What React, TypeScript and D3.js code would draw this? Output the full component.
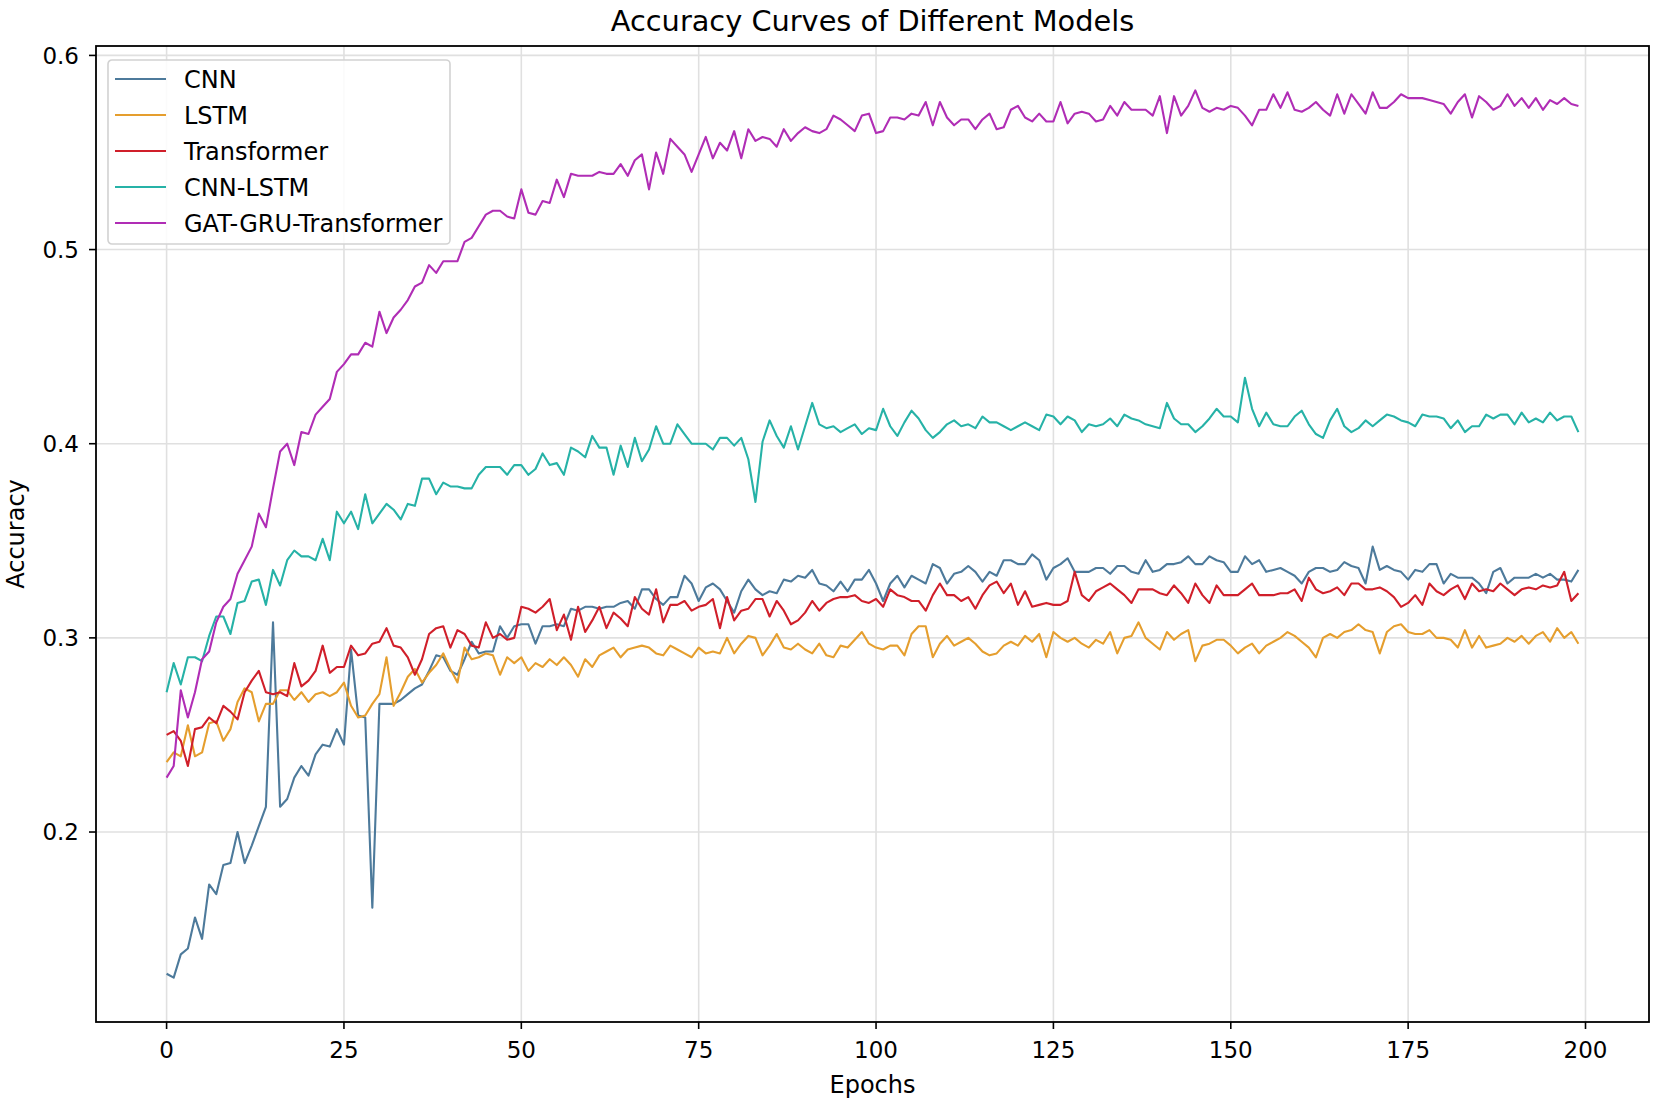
import * as d3 from 'd3';

// accuracy per epoch
const cnn = [
  .127, .125, .137, .140, .156, .145, .173, .168, .183, .184,
  .200, .184, .193, .203, .213, .308, .213, .217, .228, .234,
  .229, .240, .245, .244, .253, .245, .294, .260, .259, .161,
  .266, .266, .266, .268, .271, .274, .276, .283, .291, .290,
  .283, .281, .289, .298, .292, .293, .293, .306, .300, .306,
  .307, .307, .297, .306, .306, .307, .306, .315, .314, .316,
  .316, .315, .316, .316, .318, .319, .315, .325, .325, .320,
  .317, .321, .321, .332, .328, .319, .326, .328, .325, .319,
  .313, .324, .330, .325, .322, .324, .323, .330, .329, .332,
  .331, .335, .328, .327, .324, .329, .324, .330, .330, .335,
  .328, .319, .328, .332, .326, .332, .330, .328, .338, .336,
  .328, .333, .334, .337, .334, .329, .334, .332, .340, .340,
  .338, .338, .343, .340, .330, .336, .338, .341, .334, .334,
  .334, .336, .336, .333, .337, .337, .334, .333, .340, .334,
  .335, .338, .338, .339, .342, .338, .338, .342, .340, .339,
  .334, .334, .342, .338, .340, .334, .335, .336, .334, .332,
  .328, .334, .336, .336, .334, .335, .339, .337, .336, .328,
  .347, .335, .337, .335, .334, .330, .335, .334, .338, .338,
  .328, .333, .331, .331, .331, .328, .323, .334, .336, .328,
  .331, .331, .331, .333, .331, .333, .330, .330, .329, .335,
];

const lstm = [
  .236, .241, .239, .255, .239, .241, .256, .257, .247, .253,
  .267, .274, .272, .257, .266, .266, .273, .273, .268, .272,
  .267, .271, .272, .270, .272, .277, .265, .259, .260, .266,
  .271, .290, .265, .272, .280, .284, .277, .282, .286, .292,
  .284, .277, .295, .289, .290, .292, .291, .281, .290, .287,
  .290, .283, .287, .285, .289, .286, .290, .286, .280, .289,
  .285, .291, .293, .295, .290, .294, .295, .296, .295, .292,
  .291, .296, .294, .292, .290, .295, .292, .293, .292, .300,
  .292, .297, .301, .300, .291, .296, .302, .295, .294, .297,
  .294, .292, .297, .291, .290, .296, .295, .299, .303, .297,
  .295, .294, .296, .296, .291, .302, .306, .306, .290, .297,
  .301, .296, .298, .300, .297, .293, .291, .292, .296, .298,
  .296, .301, .298, .302, .290, .303, .300, .298, .300, .297,
  .295, .299, .297, .303, .292, .300, .301, .308, .300, .297,
  .294, .303, .299, .302, .304, .288, .296, .297, .299, .299,
  .296, .292, .295, .297, .292, .296, .298, .300, .303, .301,
  .298, .295, .290, .300, .302, .300, .303, .304, .307, .304,
  .303, .292, .303, .306, .307, .303, .302, .302, .304, .300,
  .300, .299, .295, .304, .295, .301, .295, .296, .297, .300,
  .298, .301, .297, .301, .303, .298, .305, .300, .303, .297,
];

const transformer = [
  .250, .252, .247, .234, .253, .254, .259, .256, .265, .262,
  .258, .272, .278, .283, .272, .271, .272, .270, .287, .275,
  .278, .283, .296, .282, .285, .285, .296, .291, .292, .297,
  .298, .305, .296, .295, .290, .281, .289, .302, .305, .306,
  .295, .304, .302, .296, .295, .308, .300, .302, .299, .300,
  .316, .315, .313, .316, .320, .304, .312, .299, .316, .303,
  .309, .316, .305, .313, .310, .306, .321, .315, .312, .325,
  .308, .317, .317, .319, .314, .316, .317, .320, .305, .321,
  .309, .314, .315, .320, .320, .311, .319, .314, .307, .309,
  .313, .319, .314, .318, .320, .321, .321, .322, .319, .318,
  .320, .316, .325, .322, .321, .319, .319, .314, .322, .328,
  .322, .322, .319, .321, .315, .322, .327, .329, .323, .328,
  .317, .324, .316, .317, .318, .317, .317, .319, .334, .322,
  .319, .324, .326, .328, .325, .322, .318, .325, .325, .325,
  .323, .322, .327, .323, .318, .328, .322, .318, .327, .322,
  .322, .322, .325, .328, .322, .322, .322, .323, .323, .325,
  .319, .331, .325, .323, .324, .326, .322, .328, .328, .325,
  .325, .326, .324, .321, .316, .318, .322, .317, .328, .324,
  .322, .325, .327, .320, .328, .324, .325, .324, .328, .325,
  .322, .325, .326, .325, .327, .326, .327, .334, .319, .323,
];

const cnnLstm = [
  .272, .287, .276, .290, .290, .288, .301, .311, .311, .302,
  .318, .319, .329, .330, .317, .335, .327, .340, .345, .342,
  .342, .340, .351, .340, .365, .359, .365, .356, .374, .359,
  .364, .369, .366, .361, .369, .368, .382, .382, .374, .380,
  .378, .378, .377, .377, .384, .388, .388, .388, .384, .389,
  .389, .384, .387, .395, .389, .390, .384, .398, .396, .393,
  .404, .398, .398, .384, .399, .388, .403, .391, .397, .409,
  .400, .400, .410, .405, .400, .400, .400, .397, .403, .403,
  .399, .403, .392, .370, .401, .412, .404, .398, .409, .397,
  .409, .421, .410, .408, .409, .406, .408, .410, .405, .408,
  .407, .418, .409, .404, .411, .417, .413, .407, .403, .406,
  .410, .412, .409, .410, .408, .414, .411, .411, .409, .407,
  .409, .411, .409, .407, .415, .414, .410, .414, .412, .406,
  .410, .409, .410, .413, .409, .415, .413, .412, .410, .409,
  .408, .421, .413, .410, .410, .406, .409, .413, .418, .414,
  .414, .411, .434, .418, .409, .416, .410, .409, .409, .414,
  .417, .410, .405, .403, .412, .418, .409, .406, .408, .412,
  .409, .412, .415, .414, .412, .411, .409, .415, .414, .414,
  .413, .408, .412, .406, .409, .409, .415, .413, .415, .415,
  .410, .416, .411, .413, .411, .416, .412, .414, .414, .406,
];

const gatGruTransformer = [
  .228, .234, .273, .259, .272, .289, .293, .308, .316, .320,
  .333, .340, .347, .364, .357, .377, .396, .400, .389, .406,
  .405, .415, .419, .423, .437, .441, .446, .446, .452, .450,
  .468, .457, .465, .469, .474, .481, .483, .492, .488, .494,
  .494, .494, .504, .506, .512, .518, .520, .520, .517, .516,
  .531, .519, .518, .525, .524, .536, .527, .539, .538, .538,
  .538, .540, .539, .539, .544, .538, .546, .549, .531, .550,
  .539, .557, .553, .549, .540, .549, .558, .547, .555, .551,
  .561, .547, .562, .556, .558, .557, .553, .562, .556, .560,
  .563, .561, .560, .562, .569, .567, .564, .561, .569, .570,
  .560, .561, .568, .568, .567, .570, .569, .576, .564, .576,
  .568, .564, .567, .567, .562, .567, .570, .562, .563, .572,
  .574, .568, .566, .570, .566, .566, .576, .565, .570, .571,
  .570, .566, .567, .574, .569, .576, .572, .572, .572, .569,
  .579, .560, .579, .569, .574, .582, .573, .571, .573, .572,
  .574, .573, .569, .564, .572, .572, .580, .573, .581, .572,
  .571, .573, .576, .572, .569, .580, .570, .580, .575, .570,
  .581, .573, .573, .576, .580, .578, .578, .578, .577, .576,
  .575, .570, .576, .580, .568, .579, .576, .572, .574, .580,
  .574, .578, .573, .578, .572, .577, .575, .578, .575, .574,
];

const seriesNames = ['CNN', 'LSTM', 'Transformer', 'CNN-LSTM', 'GAT-GRU-Transformer'];
const seriesValues = [cnn, lstm, transformer, cnnLstm, gatGruTransformer];
const seriesColors = ['#4d7a9b', '#e59e2e', '#d01f2a', '#26b2a7', '#b02db5'];

const xTicks = [0, 25, 50, 75, 100, 125, 150, 175, 200];
const yTicks = [0.2, 0.3, 0.4, 0.5, 0.6];

const W = 1654;
const H = 1104;
const margin = { top: 46, right: 5, bottom: 82, left: 96 };
const FONT = '"DejaVu Sans", Verdana, sans-serif';

export default function App() {
    const innerW = W - margin.left - margin.right;
    const innerH = H - margin.top - margin.bottom;

    const n = cnn.length;
    // matplotlib-style 5% padding around the data
    const xPad = (n - 1) * 0.05;
    const x = d3.scaleLinear().domain([-xPad, n - 1 + xPad]).range([0, innerW]);

    const all = seriesValues.flat();
    const [yMin, yMax] = d3.extent(all) as [number, number];
    const yPad = (yMax - yMin) * 0.05;
    const y = d3.scaleLinear().domain([yMin - yPad, yMax + yPad]).range([innerH, 0]);

    const line = d3.line<number>()
        .x((_, i) => x(i))
        .y(d => y(d));

    const fmt = d3.format('.1f');

    return (
        <div style={{ position: 'absolute', left: 0, top: 0, background: '#fff' }}>
            <svg width={W} height={H} style={{ display: 'block', fontFamily: FONT }}>
                <rect width={W} height={H} fill="#fff" />
                <text x={margin.left + innerW / 2} y={31} textAnchor="middle" fontSize={28.8} fill="#000">
                    Accuracy Curves of Different Models
                </text>
                <g transform={`translate(${margin.left},${margin.top})`}>
                    {/* grid */}
                    {xTicks.map(t => (
                        <line key={'gx' + t} x1={x(t)} x2={x(t)} y1={0} y2={innerH} stroke="#e0e0e0" strokeWidth={1.6} />
                    ))}
                    {yTicks.map(t => (
                        <line key={'gy' + t} x1={0} x2={innerW} y1={y(t)} y2={y(t)} stroke="#e0e0e0" strokeWidth={1.6} />
                    ))}

                    {seriesValues.map((vals, k) => (
                        <path key={seriesNames[k]} d={line(vals) ?? ''} fill="none"
                            stroke={seriesColors[k]} strokeWidth={2.1} strokeLinejoin="round" />
                    ))}

                    {/* spines */}
                    <rect x={0} y={0} width={innerW} height={innerH} fill="none" stroke="#000" strokeWidth={1.8} />

                    {/* x axis */}
                    {xTicks.map(t => (
                        <g key={'tx' + t} transform={`translate(${x(t)},${innerH})`}>
                            <line y1={0} y2={7} stroke="#000" strokeWidth={1.6} />
                            <text y={36} textAnchor="middle" fontSize={23} fill="#000">{t}</text>
                        </g>
                    ))}
                    <text x={innerW / 2} y={innerH + 71} textAnchor="middle" fontSize={24} fill="#000">Epochs</text>

                    {/* y axis */}
                    {yTicks.map(t => (
                        <g key={'ty' + t} transform={`translate(0,${y(t)})`}>
                            <line x1={-7} x2={0} stroke="#000" strokeWidth={1.6} />
                            <text x={-17} dy="0.36em" textAnchor="end" fontSize={23} fill="#000">{fmt(t)}</text>
                        </g>
                    ))}
                    <text transform={`translate(${-72},${innerH / 2}) rotate(-90)`} textAnchor="middle" fontSize={24} fill="#000">
                        Accuracy
                    </text>

                    {/* legend */}
                    <g transform="translate(12,14)">
                        <rect x={0} y={0} width={342} height={184} rx={4} fill="#fff" fillOpacity={0.85}
                            stroke="#d2d2d2" strokeWidth={1.6} />
                        {seriesNames.map((name, k) => (
                            <g key={'lg' + name} transform={`translate(0,${19 + k * 36})`}>
                                <line x1={7} x2={58} stroke={seriesColors[k]} strokeWidth={2.1} />
                                <text x={76} dy="0.36em" fontSize={24} fill="#000">{name}</text>
                            </g>
                        ))}
                    </g>
                </g>
            </svg>
        </div>
    );
}
